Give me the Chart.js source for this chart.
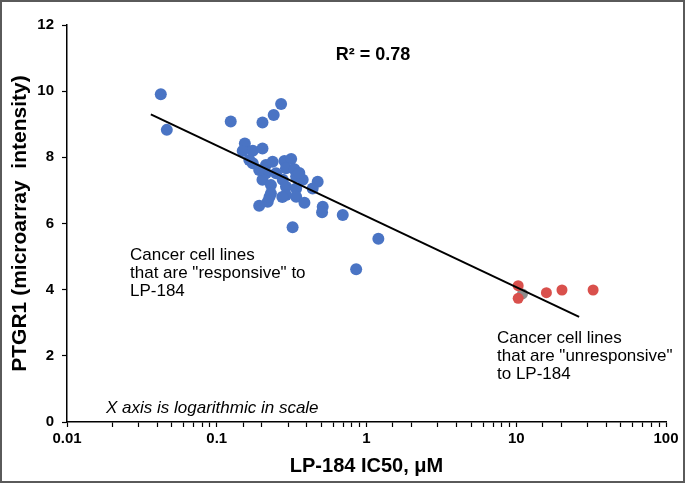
<!DOCTYPE html>
<html>
<head>
<meta charset="utf-8">
<script src="https://cdn.jsdelivr.net/npm/chart.js@4.4.1/dist/chart.umd.min.js"></script>
<style>
html,body{margin:0;padding:0;background:#fff;}
#wrap{width:685px;height:483px;position:relative;}
canvas{display:block;}
</style>
</head>
<body>
<div id="wrap"><canvas id="c" width="685" height="483"></canvas></div>
<script>
// Responsive cell lines (blue)
const blueX = [0.0423,0.0464,0.124,0.202,0.240,0.269,0.154,0.149,0.174,0.202,
               0.174,0.213,0.236,0.283,0.314,0.290,0.330,0.213,0.249,0.202,
               0.230,0.276,0.339,0.375,0.290,0.339,0.230,0.290,0.339,0.219,
               0.192,0.385,0.472,0.437,0.510,0.505,0.694,0.321,1.20,0.853,
               0.356,0.274,0.165,0.192,0.225];
const blueY = [9.91,8.83,9.08,9.05,9.28,9.61,8.42,8.19,8.20,8.27,
               7.82,7.77,7.87,7.89,7.95,7.67,7.64,7.52,7.52,7.32,
               7.16,7.32,7.42,7.32,7.11,7.06,6.91,6.86,6.81,6.66,
               6.54,6.63,7.26,7.06,6.51,6.34,6.26,5.89,5.54,4.62,
               7.53,6.80,7.92,7.62,6.80];
// Unresponsive cell lines (red)
const redX = [10.3,10.3,15.9,20.2,32.6];
const redY = [4.12,3.74,3.91,3.99,3.99];
// grey point hidden between red points
const grayX = [11.0];
const grayY = [3.87];
// fitted trend line end points
const trendX = [0.0363,26.3];
const trendY = [9.30,3.18];
// axis ticks
const xTickLabels = ['0.01','0.1','1','10','100'];
const yTickValues = [0,2,4,6,8,10,12];

const FONT = "'Liberation Sans', Arial, sans-serif";
const pts = (xs, ys) => xs.map((x, i) => ({x: x, y: ys[i]}));

const textPlugin = {
  id: 'texts',
  afterDraw(chart) {
    const ctx = chart.ctx;
    const xs = chart.scales.x, ys = chart.scales.y;
    ctx.save();
    ctx.fillStyle = '#000';
    ctx.textBaseline = 'middle';
    ctx.textAlign = 'center';
    ctx.font = 'bold 18px ' + FONT;
    ctx.fillText('R\u00B2 = 0.78', 373, 55);
    ctx.textAlign = 'left';
    ctx.font = '17px ' + FONT;
    const left = ['Cancer cell lines', 'that are "responsive" to', 'LP-184'];
    left.forEach((t, i) => ctx.fillText(t, 130, 255 + i * 18));
    const right = ['Cancer cell lines', 'that are "unresponsive"', 'to LP-184'];
    right.forEach((t, i) => ctx.fillText(t, 497, 338 + i * 18));
    ctx.font = 'italic 17px ' + FONT;
    ctx.fillText('X axis is logarithmic in scale', 106, 408);
    // outer frame
    ctx.strokeStyle = '#5a5a5a';
    ctx.lineWidth = 2;
    ctx.strokeRect(1, 1, 683, 481);
    ctx.restore();
  }
};

new Chart(document.getElementById('c'), {
  type: 'scatter',
  data: {
    datasets: [
      {type: 'line', data: pts(trendX, trendY), borderColor: '#000', borderWidth: 2,
       pointRadius: 0, fill: false, showLine: true},
      {data: pts(redX, redY), backgroundColor: '#D9504C', borderWidth: 0, pointRadius: 5.5},
      {data: pts(grayX, grayY), backgroundColor: '#8c8c8c', borderWidth: 0, pointRadius: 5.5},
      {data: pts(blueX, blueY), backgroundColor: '#4A74C4', borderWidth: 0, pointRadius: 6}
    ]
  },
  options: {
    responsive: false,
    animation: false,
    events: [],
    layout: {padding: {top: 25, right: 19, left: 0, bottom: 0}},
    plugins: {legend: {display: false}, tooltip: {enabled: false}},
    scales: {
      x: {
        type: 'logarithmic', min: 0.01, max: 100,
        border: {display: true, color: '#000', width: 1.5},
        grid: {display: true, drawOnChartArea: false, drawTicks: true, tickLength: 5, color: '#000', tickColor: '#000', tickWidth: 1.2},
        ticks: {
          autoSkip: false, maxRotation: 0, padding: 3, color: '#000',
          font: {family: FONT, size: 15, weight: 'bold'},
          callback: function(v) {
            const l = Math.log10(v);
            if (Math.abs(l - Math.round(l)) < 1e-6) return xTickLabels[Math.round(l) + 2];
            return '';
          }
        },
        title: {display: true, text: 'LP-184 IC50, \u03BCM', color: '#000',
                font: {family: FONT, size: 20, weight: 'bold'}, padding: {top: 0, bottom: 5}},
        afterFit(s) { s.height = 61; }
      },
      y: {
        min: 0, max: 12,
        border: {display: true, color: '#000', width: 1.5},
        grid: {display: true, drawOnChartArea: false, drawTicks: true, tickLength: 5, color: '#000', tickColor: '#000', tickWidth: 1.2},
        afterBuildTicks(s) { s.ticks = yTickValues.map(v => ({value: v})); },
        ticks: {padding: 8, color: '#000', font: {family: FONT, size: 15, weight: 'bold'}},
        title: {display: true, text: 'PTGR1 (microarray  intensity)', color: '#000',
                font: {family: FONT, size: 21, weight: 'bold'}, padding: {top: 8, bottom: 0}},
        afterFit(s) { s.width = 67; }
      }
    }
  },
  plugins: [textPlugin]
});
</script>
</body>
</html>
